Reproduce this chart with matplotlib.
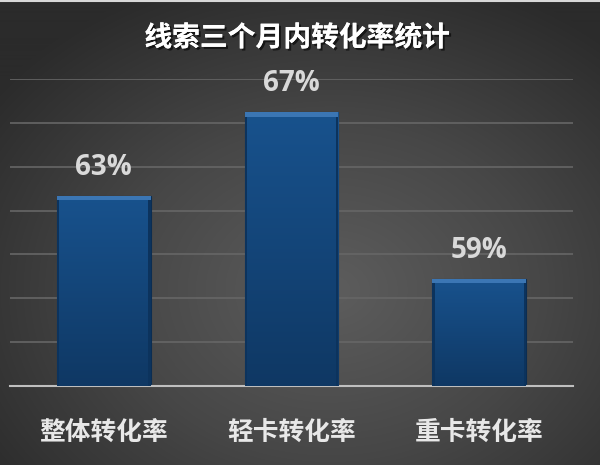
import numpy as np
import matplotlib
matplotlib.use('Agg')
import matplotlib.pyplot as plt
from matplotlib.colors import LinearSegmentedColormap
import matplotlib.patheffects as pe

plt.rcParams['font.family'] = ['Noto Sans CJK SC', 'DejaVu Sans']

title = '线索三个月内转化率统计'
categories = ['整体转化率', '轻卡转化率', '重卡转化率']
rates = [0.63, 0.67, 0.59]

fig = plt.figure(figsize=(6, 4.65), dpi=100)

# radial gray background over the whole figure
bg = fig.add_axes([0, 0, 1, 1], zorder=-10)
yy, xx = np.mgrid[0:465, 0:600]
r = np.sqrt(((xx - 330) / 420.0) ** 2 + ((yy - 290) / 330.0) ** 2)
bg_cmap = LinearSegmentedColormap.from_list('bg', ['#5d5d5d', '#474747', '#2b2b2b'])
bg.imshow(np.clip(r, 0, 1), cmap=bg_cmap, vmin=0, vmax=1, aspect='auto')
bg.axhline(0.5, color='#d8d8d8', linewidth=1.5)  # thin light strip on top edge
bg.axis('off')

ax = fig.add_axes([10 / 600, 1 - 386 / 465, 563 / 600, 307 / 465])
ax.patch.set_alpha(0)

ymin = 0.5386
step = 0.02105
ax.set_yticks(ymin + step * np.arange(1, 8))
ax.yaxis.grid(True, color='#666666', linewidth=1.2)
ax.set_axisbelow(True)
for s in ['top', 'right', 'left']:
    ax.spines[s].set_visible(False)
ax.spines['bottom'].set_color('#bfbfbf')
ax.spines['bottom'].set_linewidth(1.5)
ax.tick_params(left=False, bottom=False, labelleft=False)

x = np.arange(len(categories))
bars = ax.bar(x, rates, width=0.5, color='#134679', edgecolor='#0b2d52', linewidth=0.8, zorder=2)

# vertical gradient + bevel on every bar
bar_cmap = LinearSegmentedColormap.from_list('bar', ['#0f3864', '#18528d'])
grad = np.linspace(0, 1, 100).reshape(-1, 1)
for b in bars:
    x0, w = b.get_x(), b.get_width()
    top = b.get_y() + b.get_height()
    im = ax.imshow(grad, cmap=bar_cmap, extent=[x0, x0 + w, ymin, top],
                   origin='lower', aspect='auto', zorder=3)
    im.set_clip_path(b)
    ax.fill_between([x0, x0 + w], top - 0.0022, top, color='#3b76b4', zorder=4, linewidth=0)
    ax.fill_between([x0, x0 + 0.012], ymin, top - 0.0022, color='#0c335d', zorder=4, linewidth=0)
    ax.fill_between([x0 + w - 0.012, x0 + w], ymin, top - 0.0022, color='#0c335d', zorder=4, linewidth=0)
ax.set_xlim(-0.5, 2.5)
ax.set_ylim(ymin, ymin + 7 * step)

ax.set_xticks(x)
ax.set_xticklabels(categories, fontsize=18.5, fontweight='bold', color='#e8e8e8')
ax.tick_params(axis='x', pad=20)

for b, v in zip(bars, rates):
    ax.annotate(f'{v:.0%}', xy=(b.get_x() + b.get_width() / 2, b.get_y() + b.get_height()),
                xytext=(0, 10), textcoords='offset points', ha='center', va='bottom',
                fontsize=20, fontweight='bold', color='#d9d9d9', zorder=5,
                family=['Open Sans', 'DejaVu Sans'])

fig.text(0.495, 1 - 38 / 465, title, ha='center', va='center', fontsize=20,
         fontweight='bold', color='white',
         path_effects=[pe.withSimplePatchShadow(offset=(1.5, -1.5), shadow_rgbFace='black', alpha=0.6), pe.Normal()])

fig.savefig('out.png', dpi=100)
